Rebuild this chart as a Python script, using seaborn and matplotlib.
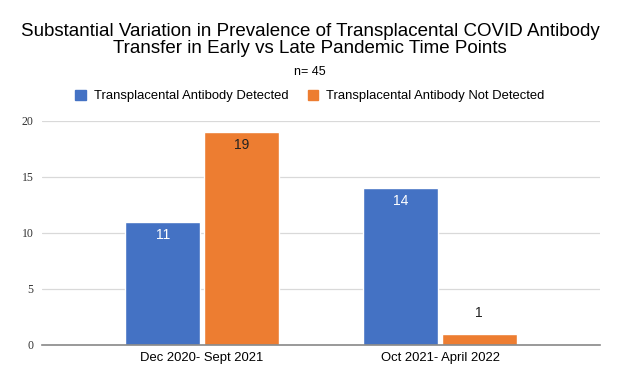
import matplotlib
matplotlib.use("Agg")
import matplotlib.pyplot as plt
import seaborn as sns
import pandas as pd

periods = ["Dec 2020- Sept 2021", "Oct 2021- April 2022"]
detected = [11, 14]
not_detected = [19, 1]
series_names = ["Transplacental Antibody Detected", "Transplacental Antibody Not Detected"]
y_ticks = [0, 5, 10, 15, 20]

df = pd.DataFrame({
    "period": periods * 2,
    "count": detected + not_detected,
    "series": [series_names[0]] * 2 + [series_names[1]] * 2,
})

sns.set_style("white")
plt.rcParams["font.family"] = ["Liberation Sans", "DejaVu Sans"]
plt.rcParams["text.color"] = "black"
plt.rcParams["xtick.color"] = "black"
plt.rcParams["ytick.color"] = "#333333"

fig = plt.figure(figsize=(6.2, 3.84), dpi=100)
ax = fig.add_axes([0.0677, 0.1016, 0.9, 0.5834])

palette = {series_names[0]: "#4472C4", series_names[1]: "#ED7D31"}
sns.barplot(data=df, x="period", y="count", hue="series", palette=palette,
            width=0.66, gap=0.04, saturation=1, legend=False, ax=ax)

ax.set_xlim(-0.672, 1.672)
ax.set_ylim(0, 20)
ax.set_yticks(y_ticks)
ax.set_yticklabels([str(t) for t in y_ticks], family="Liberation Serif", fontsize=8.5)
ax.grid(axis="y", color="#d9d9d9", linewidth=0.9)
ax.set_axisbelow(True)
for s in ["top", "right", "left"]:
    ax.spines[s].set_visible(False)
ax.spines["bottom"].set_color("#888888")
ax.spines["bottom"].set_linewidth(1.2)
ax.tick_params(axis="both", length=0, pad=6)
ax.tick_params(axis="x", labelsize=9.4, pad=5)
ax.set_xlabel("")
ax.set_ylabel("")

for container, series in zip(ax.containers, series_names):
    for bar in container:
        h = bar.get_height()
        x = bar.get_x() + bar.get_width() / 2
        if h >= 5:
            color = "white" if series == series_names[0] else "#222222"
            ax.text(x, h - 0.55, f"{int(h)}", ha="center", va="top", fontsize=10, color=color)
        else:
            ax.text(x, h + 1.2, f"{int(h)}", ha="center", va="bottom", fontsize=10, color="#222222")

fig.text(0.5, 0.897, "Substantial Variation in Prevalence of Transplacental COVID Antibody\nTransfer in Early vs Late Pandemic Time Points",
         ha="center", va="center", fontsize=13.5, linespacing=1.0)
fig.text(0.5, 0.813, "n= 45", ha="center", va="center", fontsize=9)

handles = [plt.Rectangle((0, 0), 1, 1, color=palette[s]) for s in series_names]
fig.legend(handles, series_names, loc="center", bbox_to_anchor=(0.5, 0.75), ncol=2,
           frameon=False, fontsize=9.4, handlelength=0.8, handleheight=0.8,
           columnspacing=1.5, handletextpad=0.6)

fig.savefig("out.png", dpi=100)
